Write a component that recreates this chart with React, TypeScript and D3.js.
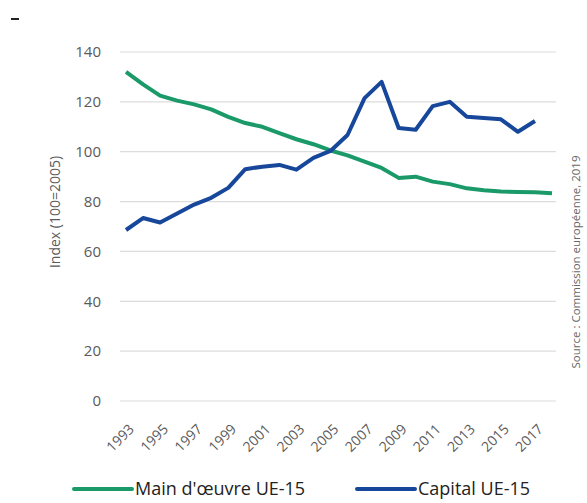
import React, { useEffect, useRef } from 'react';
import * as d3 from 'd3';

const years = d3.range(1993, 2019);
const mainOeuvre = [132, 127, 122.5, 120.5, 119, 117, 114, 111.5, 110, 107.5, 105, 103, 100.5, 98.5, 96, 93.5, 89.5, 90, 88, 87, 85.3, 84.5, 84, 83.8, 83.7, 83.3];
const capital = [68.6, 73.4, 71.6, 75.2, 78.8, 81.5, 85.5, 93, 94, 94.7, 92.8, 97.5, 100.3, 106.7, 121.5, 128, 109.5, 108.8, 118.3, 120, 114, 113.5, 113, 108, 112.3];
const yTicks = [0, 20, 40, 60, 80, 100, 120, 140];
const xTickYears = d3.range(1993, 2018, 2);

const GREEN = '#1b9a69';
const BLUE = '#17479a';

const App = () => {
  const svgRef = useRef<SVGSVGElement>(null);

  useEffect(() => {
    const svg = d3.select(svgRef.current);
    svg.selectAll('*').remove();

    const x = d3.scaleLinear().domain([1993, 2018]).range([126, 552]);
    const y = d3.scaleLinear().domain([0, 140]).range([401, 52]);
    const font = '"Open Sans", sans-serif';

    // small mark top-left
    svg.append('line')
      .attr('x1', 11).attr('x2', 19).attr('y1', 19).attr('y2', 19)
      .attr('stroke', '#222').attr('stroke-width', 2);

    // grid
    svg.append('g')
      .selectAll('line')
      .data(yTicks)
      .enter()
      .append('line')
      .attr('x1', 120)
      .attr('x2', 556)
      .attr('y1', (d) => y(d))
      .attr('y2', (d) => y(d))
      .attr('stroke', '#dcdcdc')
      .attr('stroke-width', 1.2);

    // y tick labels
    svg.append('g')
      .selectAll('text')
      .data(yTicks)
      .enter()
      .append('text')
      .attr('x', 101)
      .attr('y', (d) => y(d))
      .attr('dy', '0.35em')
      .attr('text-anchor', 'end')
      .attr('font-family', font)
      .attr('font-size', 15)
      .attr('fill', '#5a5a5a')
      .text((d) => d);

    // x tick labels
    svg.append('g')
      .selectAll('text')
      .data(xTickYears)
      .enter()
      .append('text')
      .attr('transform', (d) => `translate(${x(d) + 9}, 430) rotate(-45)`)
      .attr('text-anchor', 'end')
      .attr('font-family', font)
      .attr('font-size', 14)
      .attr('fill', '#5a5a5a')
      .text((d) => d);

    // y label
    svg.append('text')
      .attr('transform', 'translate(60, 212) rotate(-90)')
      .attr('text-anchor', 'middle')
      .attr('font-family', font)
      .attr('font-size', 14)
      .attr('fill', '#5a5a5a')
      .text('Index (100=2005)');

    // source
    svg.append('text')
      .attr('transform', 'translate(580, 262) rotate(-90)')
      .attr('text-anchor', 'middle')
      .attr('font-family', font)
      .attr('font-size', 11.5)
      .attr('fill', '#666')
      .text('Source : Commission européenne, 2019');

    const line = d3.line<number>()
      .x((_, i) => x(years[i]))
      .y((d) => y(d));

    svg.append('path')
      .attr('d', line(mainOeuvre))
      .attr('fill', 'none')
      .attr('stroke', GREEN)
      .attr('stroke-width', 4)
      .attr('stroke-linejoin', 'round');

    svg.append('path')
      .attr('d', line(capital))
      .attr('fill', 'none')
      .attr('stroke', BLUE)
      .attr('stroke-width', 4)
      .attr('stroke-linejoin', 'round');

    // legend
    const legend = [
      { label: "Main d'œuvre UE-15", color: GREEN, x0: 74 },
      { label: 'Capital UE-15', color: BLUE, x0: 357 },
    ];
    legend.forEach((l) => {
      svg.append('line')
        .attr('x1', l.x0).attr('x2', l.x0 + 58)
        .attr('y1', 489).attr('y2', 489)
        .attr('stroke', l.color).attr('stroke-width', 4)
        .attr('stroke-linecap', 'round');
      svg.append('text')
        .attr('x', l.x0 + 61)
        .attr('y', 489)
        .attr('dy', '0.35em')
        .attr('font-family', font)
        .attr('font-size', 18)
        .attr('fill', '#222')
        .text(l.label);
    });
  }, []);

  return (
    <svg ref={svgRef} width={587} height={503}
      style={{ position: 'absolute', left: 0, top: 0, background: '#fff' }} />
  );
};

export default App;
